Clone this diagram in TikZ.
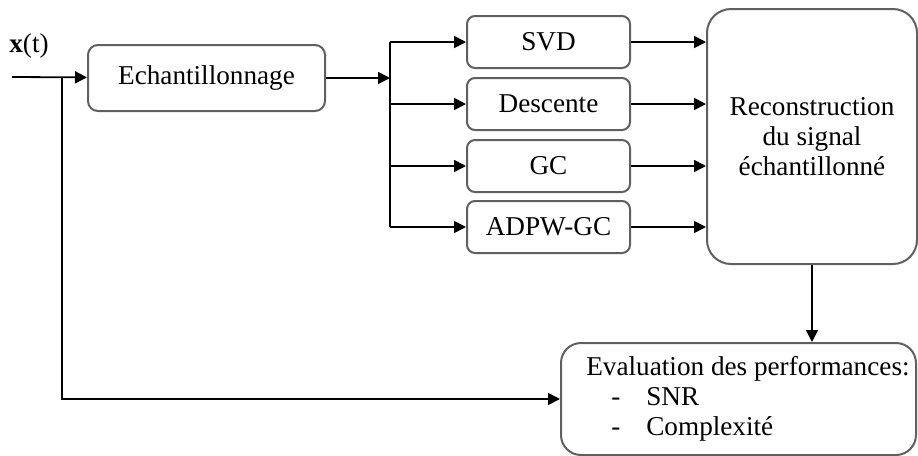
\documentclass[tikz,border=0pt]{standalone}
\usepackage{fontspec}
\setmainfont{Liberation Serif}
\usetikzlibrary{arrows.meta}
\usepackage{xcolor}

\tikzset{
  bloc/.style={draw=gray!75!black, line width=1pt, rounded corners=4pt,
    minimum width=81.5pt, minimum height=26pt, inner sep=0pt},
  fleche/.style={line width=0.9pt, -{Triangle[length=6pt,width=6pt]}},
  trait/.style={line width=0.9pt},
}
\newcommand{\evitem}[1]{\hspace*{9.5pt}\makebox[30pt][l]{\hspace*{12.5pt}-}#1}

\begin{document}
\begin{tikzpicture}[x=0.5pt,y=-0.5pt,font=\fontsize{13.6}{15}\selectfont]
\useasboundingbox (0,0) rectangle (918,456);
% entree
\node (xt) at (29,46) {\textbf{x}(t)};
\coordinate (in) at (12,77);
\coordinate (tap) at (62,77);
\node[bloc, rounded corners=5pt, minimum width=118.5pt, minimum height=33pt] (ech) at (206.5,78) {Echantillonnage};
\coordinate (bus) at (390,78);
% methodes
\node[bloc] (svd) at (548.5,42) {SVD};
\node[bloc] (desc) at (548.5,104) {Descente};
\node[bloc] (gc) at (548.5,166) {GC};
\node[bloc] (adpw) at (548.5,227) {ADPW-GC};
% reconstruction et evaluation
\node[bloc, rounded corners=12pt, minimum width=105pt, minimum height=127.5pt, align=center] (rec) at (812,136.5)
  {Reconstruction\\du signal\\échantillonné};
\node[bloc, rounded corners=10pt, minimum width=177.5pt, minimum height=56pt, align=left] (eval) at (738.5,399)
  {\hspace*{9.5pt}Evaluation des performances:\\\evitem{SNR}\\\evitem{Complexité}};
% liaisons
\draw[fleche] (in) -- (ech);
\draw[fleche] (tap) |- (eval);
\draw[fleche] (ech) -- (bus);
\draw[trait] (bus |- svd) -- (bus |- adpw);
\foreach \m in {svd,desc,gc,adpw} {
  \draw[fleche] (bus |- \m) -- (\m);
  \draw[fleche] (\m) -- (rec.west |- \m);
}
\draw[fleche] (rec.south) -- (rec.south |- eval.north);
\end{tikzpicture}
\end{document}
